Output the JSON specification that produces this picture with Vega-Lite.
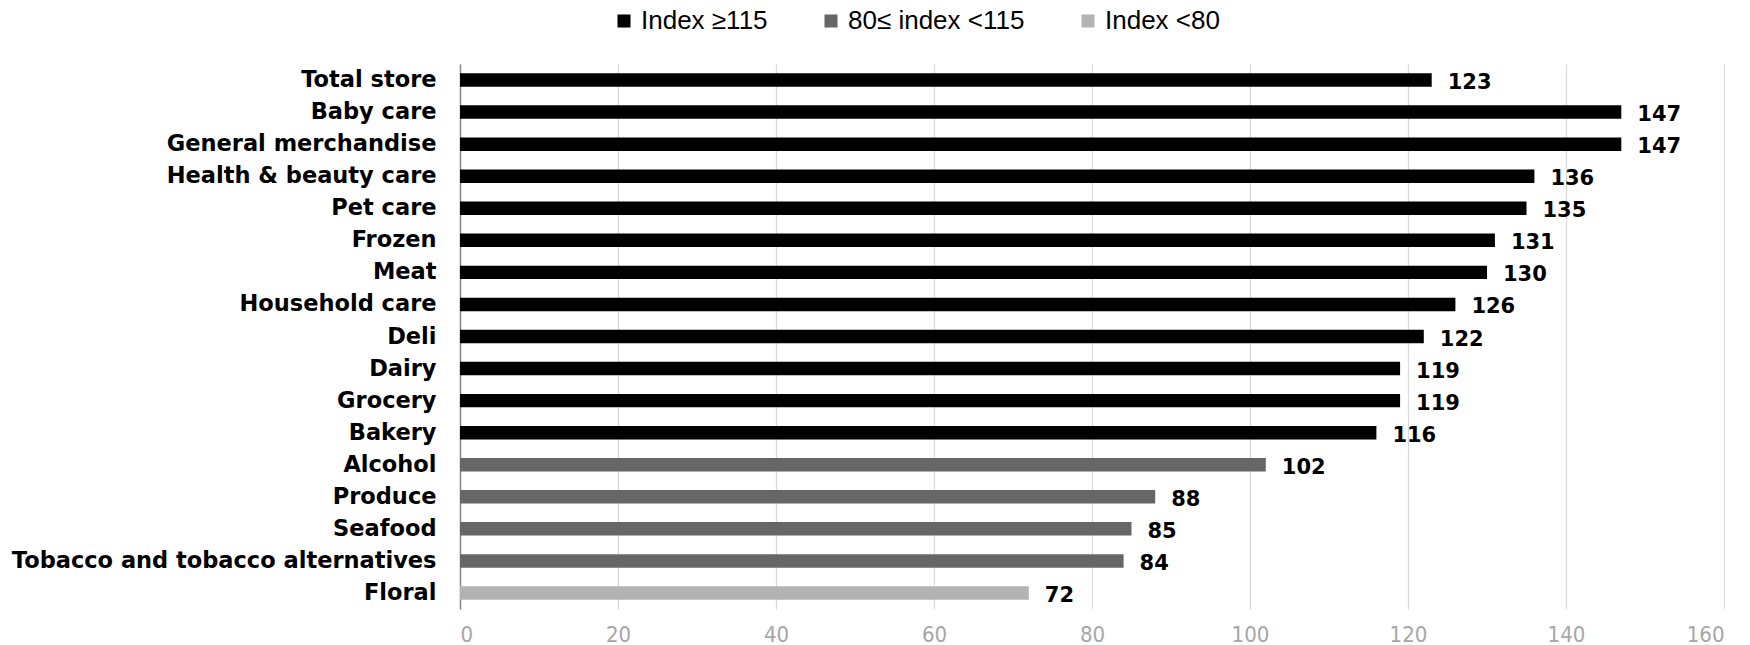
{
  "$schema": "https://vega.github.io/schema/vega-lite/v6.json",
  "autosize": {"type": "none"},
  "width": 1264,
  "height": 545,
  "padding": {"left": 460, "top": 64, "right": 26, "bottom": 36},
  "background": "white",
  "data": {
    "values": [
      {"category": "Total store", "index": 123, "group": "Index ≥115"},
      {"category": "Baby care", "index": 147, "group": "Index ≥115"},
      {"category": "General merchandise", "index": 147, "group": "Index ≥115"},
      {"category": "Health & beauty care", "index": 136, "group": "Index ≥115"},
      {"category": "Pet care", "index": 135, "group": "Index ≥115"},
      {"category": "Frozen", "index": 131, "group": "Index ≥115"},
      {"category": "Meat", "index": 130, "group": "Index ≥115"},
      {"category": "Household care", "index": 126, "group": "Index ≥115"},
      {"category": "Deli", "index": 122, "group": "Index ≥115"},
      {"category": "Dairy", "index": 119, "group": "Index ≥115"},
      {"category": "Grocery", "index": 119, "group": "Index ≥115"},
      {"category": "Bakery", "index": 116, "group": "Index ≥115"},
      {"category": "Alcohol", "index": 102, "group": "80≤ index <115"},
      {"category": "Produce", "index": 88, "group": "80≤ index <115"},
      {"category": "Seafood", "index": 85, "group": "80≤ index <115"},
      {"category": "Tobacco and tobacco alternatives", "index": 84, "group": "80≤ index <115"},
      {"category": "Floral", "index": 72, "group": "Index <80"}
    ]
  },
  "encoding": {
    "y": {
      "field": "category",
      "type": "nominal",
      "sort": null,
      "scale": {"paddingInner": 0.58, "paddingOuter": 0.29},
      "axis": {
        "title": null,
        "ticks": false,
        "domainColor": "#888888",
        "domainWidth": 1.5,
        "labelFont": "DejaVu Sans",
        "labelFontWeight": "bold",
        "labelFontSize": 22.5,
        "labelColor": "#000000",
        "labelPadding": 24,
        "labelLimit": 460
      }
    },
    "x": {
      "field": "index",
      "type": "quantitative",
      "scale": {"domain": [0, 160], "nice": false},
      "axis": {
        "title": null,
        "values": [0, 20, 40, 60, 80, 100, 120, 140, 160],
        "domain": false,
        "ticks": false,
        "grid": true,
        "gridColor": "#d9d9d9",
        "gridWidth": 1.2,
        "labelFont": "Liberation Sans Narrow, DejaVu Sans Condensed, sans-serif",
        "labelFontWeight": 300,
        "labelFontSize": 22,
        "labelColor": "#a6a6a6",
        "labelPadding": 15
      }
    }
  },
  "layer": [
    {
      "mark": {"type": "bar"},
      "encoding": {
        "color": {
          "field": "group",
          "type": "nominal",
          "scale": {
            "domain": ["Index ≥115", "80≤ index <115", "Index <80"],
            "range": ["#000000", "#666666", "#b3b3b3"]
          },
          "legend": {
            "title": null,
            "orient": "none",
            "direction": "horizontal",
            "legendX": 151,
            "legendY": -56,
            "symbolType": "square",
            "symbolSize": 170,
            "symbolStrokeWidth": 0,
            "labelFont": "Liberation Sans",
            "labelFontSize": 26,
            "labelColor": "#000000",
            "labelOffset": 4,
            "labelLimit": 400,
            "columnPadding": 50
          }
        }
      }
    },
    {
      "mark": {
        "type": "text",
        "align": "left",
        "baseline": "middle",
        "dx": 16,
        "dy": 3,
        "font": "DejaVu Sans",
        "fontWeight": "bold",
        "fontSize": 21,
        "color": "#000000"
      },
      "encoding": {
        "text": {"field": "index", "type": "quantitative"}
      }
    }
  ],
  "config": {"view": {"stroke": null}}
}
